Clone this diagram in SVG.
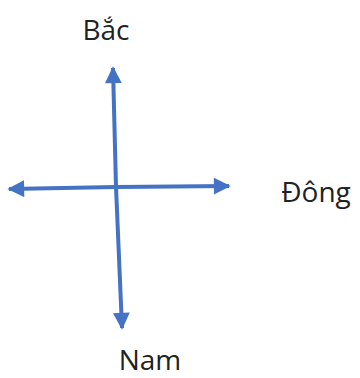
<svg xmlns="http://www.w3.org/2000/svg" width="360" height="378" viewBox="0 0 360 378">
<style>
.lbl{font-family:"Open Sans","Liberation Sans",sans-serif;font-size:28px;fill:#222}
.ax{stroke:#4472C4;stroke-width:4;fill:none}
</style>
<defs>
<marker id="ah" viewBox="0 0 10 10" refX="9" refY="5" markerWidth="4.6" markerHeight="4.2" orient="auto" markerUnits="strokeWidth">
<path d="M0,0 L10,5 L0,10 z" fill="#4472C4"/>
</marker>
</defs>
<rect width="360" height="378" fill="#fff"/>
<g id="connectors">
<line class="ax" x1="116" y1="187" x2="113" y2="68" marker-end="url(#ah)"/>
<line class="ax" x1="116" y1="187" x2="122" y2="328" marker-end="url(#ah)"/>
<line class="ax" x1="116" y1="187" x2="9" y2="189" marker-end="url(#ah)"/>
<line class="ax" x1="116" y1="187" x2="229" y2="186" marker-end="url(#ah)"/>
</g>
<g id="bac"><text class="lbl" x="106" y="40" text-anchor="middle">Bắc</text></g>
<g id="dong"><text class="lbl" x="316" y="202" text-anchor="middle">Đông</text></g>
<g id="nam"><text class="lbl" x="150" y="370" text-anchor="middle">Nam</text></g>
</svg>
